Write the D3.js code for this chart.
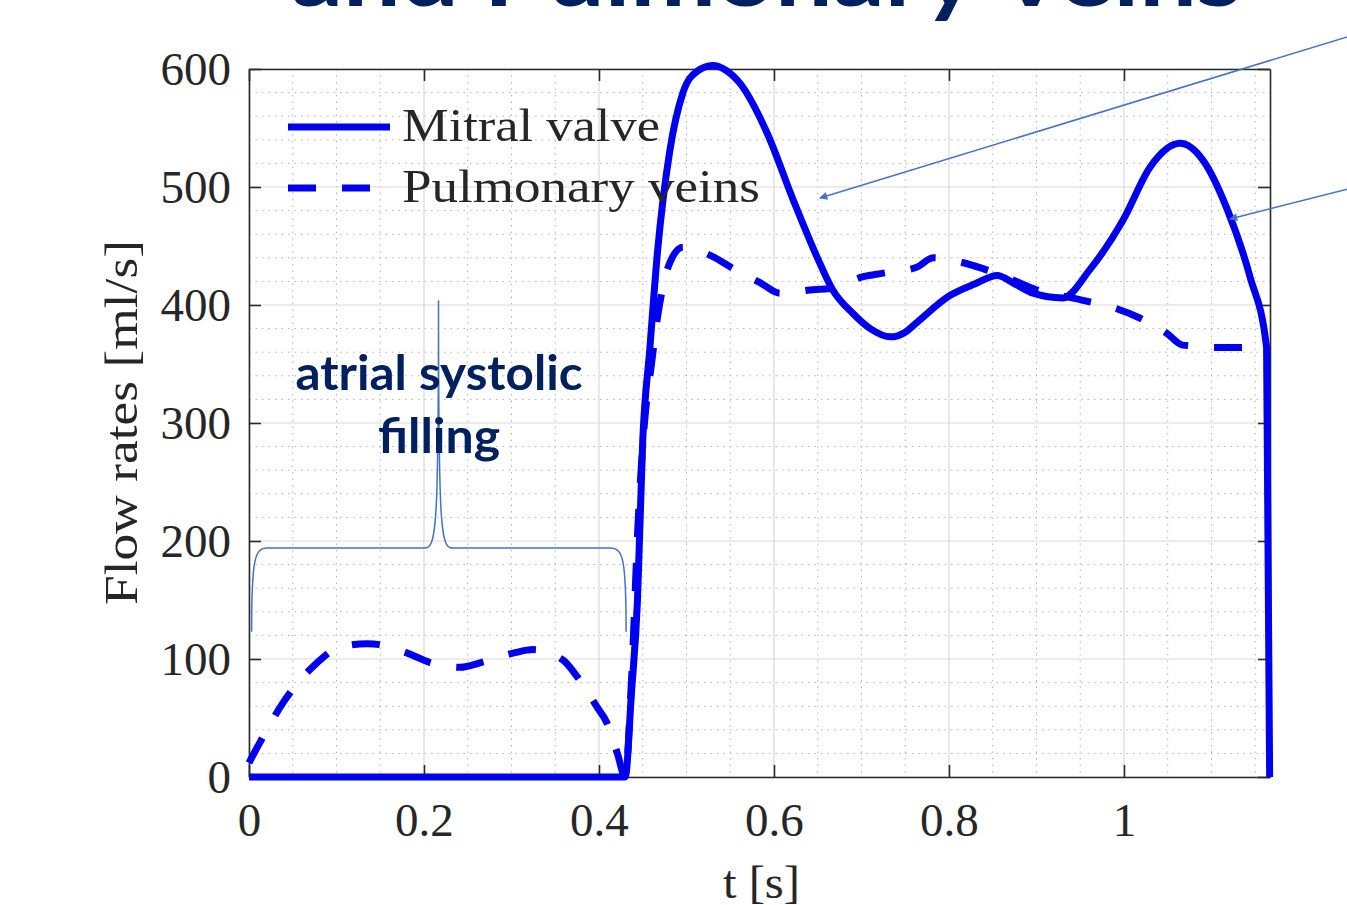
<!DOCTYPE html>
<html>
<head>
<meta charset="utf-8">
<script src="https://cdn.jsdelivr.net/npm/d3@7"></script>
<style>
    body { margin: 0; background: #fff; }
    svg { display: block; }
    .tick-label { font-family: "Liberation Serif", serif; fill: #262626; }
</style>
</head>
<body>
<div id="chart"></div>
<script>
// DATA
const xTicks = [0, 0.2, 0.4, 0.6, 0.8, 1];
const yTicks = [0, 100, 200, 300, 400, 500, 600];

const mitralT = [0, 0.43, 0.437, 0.444, 0.45, 0.458, 0.467, 0.481, 0.496, 0.512, 0.530, 0.545, 0.561, 0.592, 0.622, 0.649, 0.667, 0.690, 0.710, 0.733, 0.750, 0.763, 0.801, 0.830, 0.855, 0.875, 0.896, 0.930, 0.961, 0.999, 1.030, 1.064, 1.090, 1.118, 1.144, 1.163, 1.1665];
const mitralQ = [0, 0, 70, 150, 285, 362, 446, 531, 580, 598, 603, 599, 588, 546, 489, 441, 413, 393, 380, 373, 377, 385, 408, 418, 425, 418, 410, 406, 430, 472, 517, 537, 523, 481, 424, 364, 0];

const veinsT = [0, 0.013, 0.039, 0.078, 0.103, 0.135, 0.151, 0.181, 0.207, 0.242, 0.265, 0.302, 0.325, 0.359, 0.375, 0.398, 0.409, 0.421, 0.430, 0.437, 0.445, 0.452, 0.460, 0.467, 0.481, 0.496, 0.530, 0.553, 0.584, 0.607, 0.645, 0.664, 0.702, 0.725, 0.763, 0.782, 0.815, 0.838, 0.877, 0.896, 0.953, 0.991, 1.018, 1.049, 1.067, 1.106, 1.133, 1.163];
const veinsQ = [12, 30, 63, 97, 110, 113, 112, 105, 97, 93, 97, 105, 108, 99, 85, 59, 46, 20, 0, 80, 220, 300, 350, 390, 436, 449, 441, 431, 419, 410, 413, 414, 424, 427, 432, 440, 436, 431, 420, 414, 404, 397, 389, 376, 366, 364, 364, 363];

const seriesNames = ["Mitral valve", "Pulmonary veins"];

// VARIABLES
const width = 1347;
const height = 905;
const plot = {left: 249, right: 1270, top: 69, bottom: 777};
const blue = "#0000ee";
const navy = "#002060";
const noteBlue = "#4472c4";
const dash = "28,26";

const svg = d3.select("#chart")
    .append("svg")
    .attr("width", width)
    .attr("height", height);

svg.append("rect")
    .attr("width", width)
    .attr("height", height)
    .attr("fill", "#fff");

const xScale = d3.scaleLinear()
    .domain([0, 1.1669])
    .range([plot.left, plot.right]);

const yScale = d3.scaleLinear()
    .domain([0, 600])
    .range([plot.bottom, plot.top]);

// title (cut off at the top)
svg.append("text")
    .attr("x", 291)
    .attr("y", 6)
    .attr("textLength", 951)
    .attr("lengthAdjust", "spacingAndGlyphs")
    .style("font-family", "Lato, 'Open Sans', sans-serif")
    .style("font-weight", 700)
    .style("font-size", "88px")
    .attr("fill", navy)
    .text("and Pulmonary Veins");

// GRID
const gridG = svg.append("g");

const xMinor = d3.range(0.05, 1.1669, 0.05).filter(v => Math.abs(v * 5 - Math.round(v * 5)) > 1e-6);
const yMinor = d3.range(20, 600, 20).filter(v => v % 100 !== 0);

gridG.selectAll(".xminor")
    .data(xMinor)
    .join("line")
    .attr("x1", d => xScale(d)).attr("x2", d => xScale(d))
    .attr("y1", plot.top).attr("y2", plot.bottom)
    .attr("stroke", "#b4b4b4")
    .attr("stroke-width", 1)
    .attr("stroke-dasharray", "1.5,5");

gridG.selectAll(".yminor")
    .data(yMinor)
    .join("line")
    .attr("y1", d => yScale(d)).attr("y2", d => yScale(d))
    .attr("x1", plot.left).attr("x2", plot.right)
    .attr("stroke", "#b4b4b4")
    .attr("stroke-width", 1)
    .attr("stroke-dasharray", "1.5,5");

gridG.selectAll(".xmajor")
    .data(xTicks)
    .join("line")
    .attr("x1", d => xScale(d)).attr("x2", d => xScale(d))
    .attr("y1", plot.top).attr("y2", plot.bottom)
    .attr("stroke", "#dadada")
    .attr("stroke-width", 1.2);

gridG.selectAll(".ymajor")
    .data(yTicks)
    .join("line")
    .attr("y1", d => yScale(d)).attr("y2", d => yScale(d))
    .attr("x1", plot.left).attr("x2", plot.right)
    .attr("stroke", "#dadada")
    .attr("stroke-width", 1.2);

// AXES
function styleAxis(g) {
    g.selectAll("path, line")
        .attr("stroke", "#2a2a2a")
        .attr("stroke-width", 1.6);
    g.selectAll("text")
        .classed("tick-label", true)
        .attr("fill", "#262626")
        .style("font-size", "47px");
}

svg.append("g")
    .attr("transform", `translate(0, ${plot.bottom})`)
    .call(d3.axisBottom(xScale).tickValues(xTicks).tickFormat(d3.format("~g"))
        .tickSizeInner(-12).tickSizeOuter(0).tickPadding(26))
    .call(g => g.attr("font-family", null).attr("font-size", null))
    .call(styleAxis);

svg.append("g")
    .attr("transform", `translate(${plot.left}, 0)`)
    .call(d3.axisLeft(yScale).tickValues(yTicks)
        .tickSizeInner(-12).tickSizeOuter(0).tickPadding(18))
    .call(g => g.attr("font-family", null).attr("font-size", null))
    .call(styleAxis);

svg.append("g")
    .attr("transform", `translate(0, ${plot.top})`)
    .call(d3.axisTop(xScale).tickValues(xTicks).tickFormat("")
        .tickSizeInner(-12).tickSizeOuter(0))
    .call(styleAxis);

svg.append("g")
    .attr("transform", `translate(${plot.right}, 0)`)
    .call(d3.axisRight(yScale).tickValues(yTicks).tickFormat("")
        .tickSizeInner(-12).tickSizeOuter(0))
    .call(styleAxis);

// axis labels
svg.append("text")
    .attr("class", "tick-label")
    .attr("x", 723)
    .attr("y", 898)
    .attr("textLength", 77)
    .attr("lengthAdjust", "spacingAndGlyphs")
    .style("font-size", "47px")
    .text("t [s]");

svg.append("text")
    .attr("class", "tick-label")
    .attr("transform", "translate(137, 605) rotate(-90)")
    .attr("textLength", 365)
    .attr("lengthAdjust", "spacingAndGlyphs")
    .style("font-size", "47px")
    .text("Flow rates [ml/s]");

// LINES
const line = d3.line()
    .x(d => xScale(d[0]))
    .y(d => yScale(d[1]))
    .curve(d3.curveMonotoneX);

const mitral = mitralT.map((t, i) => [t, mitralQ[i]]);
const veins = veinsT.map((t, i) => [t, veinsQ[i]]);

svg.append("path")
    .datum(veins)
    .attr("d", line)
    .attr("fill", "none")
    .attr("stroke", blue)
    .attr("stroke-width", 7)
    .attr("stroke-dasharray", dash);

svg.append("path")
    .datum(mitral)
    .attr("d", line)
    .attr("fill", "none")
    .attr("stroke", blue)
    .attr("stroke-width", 7)
    .attr("stroke-linejoin", "round");

// LEGEND
const legend = svg.append("g")
    .attr("transform", `translate(${plot.left + 39}, 127)`);

legend.selectAll("line")
    .data(seriesNames)
    .join("line")
    .attr("x1", 0).attr("x2", 102)
    .attr("y1", (d, i) => i * 61).attr("y2", (d, i) => i * 61)
    .attr("stroke", blue)
    .attr("stroke-width", 7)
    .attr("stroke-dasharray", (d, i) => i ? dash : null);

legend.selectAll("text")
    .data(seriesNames)
    .join("text")
    .attr("class", "tick-label")
    .attr("x", 114)
    .attr("y", (d, i) => i * 61 + 14)
    .attr("textLength", (d, i) => i ? 358 : 258)
    .attr("lengthAdjust", "spacingAndGlyphs")
    .style("font-size", "47px")
    .text(d => d);

// ANNOTATIONS
const bx0 = 0.003, bx1 = 0.431, bmid = 0.2166;
const by0 = 123, by1 = 194, byTip = 404;

const brace = d3.path();
brace.moveTo(xScale(bx0), yScale(by0));
brace.bezierCurveTo(xScale(bx0), yScale(by1) + 10, xScale(bx0) + 3, yScale(by1), xScale(bx0) + 16, yScale(by1));
brace.lineTo(xScale(bmid) - 14, yScale(by1));
brace.bezierCurveTo(xScale(bmid) - 2, yScale(by1), xScale(bmid), yScale(by1) - 20, xScale(bmid), yScale(byTip));
brace.bezierCurveTo(xScale(bmid), yScale(by1) - 20, xScale(bmid) + 2, yScale(by1), xScale(bmid) + 14, yScale(by1));
brace.lineTo(xScale(bx1) - 16, yScale(by1));
brace.bezierCurveTo(xScale(bx1) - 3, yScale(by1), xScale(bx1), yScale(by1) + 10, xScale(bx1), yScale(by0));

svg.append("path")
    .attr("d", brace.toString())
    .attr("fill", "none")
    .attr("stroke", noteBlue)
    .attr("stroke-width", 1.5);

const note = svg.append("text")
    .attr("text-anchor", "middle")
    .style("font-family", "Lato, 'Open Sans', sans-serif")
    .style("font-weight", 700)
    .style("font-size", "48px")
    .attr("fill", navy);

note.append("tspan").attr("x", 439).attr("y", 390)
    .attr("textLength", 287).attr("lengthAdjust", "spacingAndGlyphs")
    .text("atrial systolic");
note.append("tspan").attr("x", 439).attr("y", 453)
    .attr("textLength", 122).attr("lengthAdjust", "spacingAndGlyphs")
    .text("filling");

// arrows
svg.append("defs").append("marker")
    .attr("id", "head")
    .attr("viewBox", "0 0 10 10")
    .attr("refX", 9).attr("refY", 5)
    .attr("markerWidth", 11).attr("markerHeight", 8)
    .attr("markerUnits", "userSpaceOnUse")
    .attr("orient", "auto")
    .append("path")
    .attr("d", "M0,0 L10,5 L0,10 Z")
    .attr("fill", noteBlue);

const arrows = [
    {from: [1360, 33], to: [820, 198]},
    {from: [1360, 186], to: [1230, 219]}
];

svg.selectAll(".arrow")
    .data(arrows)
    .join("line")
    .attr("x1", d => d.from[0]).attr("y1", d => d.from[1])
    .attr("x2", d => d.to[0]).attr("y2", d => d.to[1])
    .attr("stroke", noteBlue)
    .attr("stroke-width", 1.5)
    .attr("marker-end", "url(#head)");
</script>
</body>
</html>
